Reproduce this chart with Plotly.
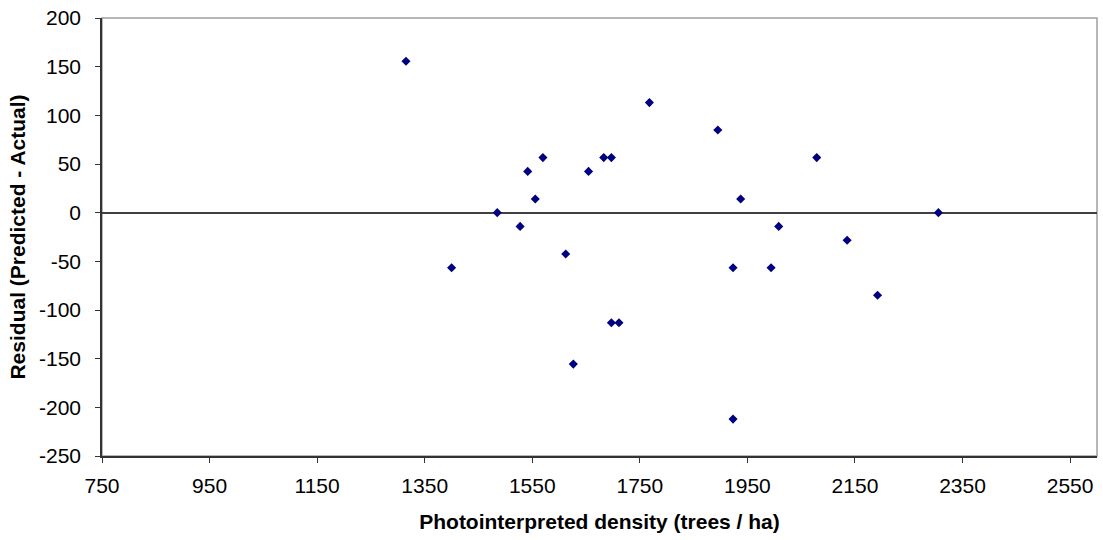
import plotly.graph_objects as go

# Photointerpreted density (trees / ha)
density = [1315.2, 1400.0, 1484.9, 1527.4, 1541.5, 1555.6, 1569.8, 1612.2, 1626.3,
           1654.6, 1682.9, 1697.1, 1697.1, 1711.2, 1767.8, 1895.0, 1923.3, 1923.3,
           1937.5, 1994.0, 2008.2, 2078.9, 2135.4, 2192.0, 2305.1]
# Residual (Predicted - Actual)
residual = [155.6, -56.6, 0.0, -14.1, 42.4, 14.1, 56.6, -42.4, -155.6,
            42.4, 56.6, 56.6, -113.1, -113.1, 113.1, 84.9, -56.6, -212.1,
            14.1, -56.6, -14.1, 56.6, -28.3, -84.9, 0.0]

x_ticks = [750, 950, 1150, 1350, 1550, 1750, 1950, 2150, 2350, 2550]
y_ticks = [200, 150, 100, 50, 0, -50, -100, -150, -200, -250]

FONT = "Liberation Sans, Arial, sans-serif"

fig = go.Figure()
fig.add_trace(go.Scatter(
    x=density, y=residual, mode="markers",
    marker=dict(symbol="diamond", size=7, color="#000080",
                line=dict(width=0)),
    showlegend=False, hoverinfo="x+y",
))

fig.update_layout(
    width=1103, height=540,
    margin=dict(l=102, r=6, t=14, b=84),
    paper_bgcolor="white", plot_bgcolor="white",
    font=dict(family=FONT, size=21, color="black"),
    shapes=[dict(type="rect", xref="paper", yref="paper", x0=0, x1=1, y0=0, y1=1,
                 line=dict(color="#a0a0a0", width=1.5), layer="below")],
)
fig.update_xaxes(
    range=[750, 2600], tickvals=x_ticks, ticktext=[str(v) for v in x_ticks],
    showgrid=False, zeroline=False,
    showline=True, linecolor="#333333", linewidth=1.5,
    ticks="outside", ticklen=5, tickcolor="#333333", tickwidth=1,
    tickfont=dict(family=FONT, size=21, color="black"),
    ticklabelstandoff=5,
    title=dict(text="<b>Photointerpreted density (trees / ha)</b>",
               font=dict(family=FONT, size=21, color="black"), standoff=18),
)
fig.update_yaxes(
    range=[-250, 200], tickvals=y_ticks, ticktext=[str(v) for v in y_ticks],
    showgrid=False,
    zeroline=True, zerolinecolor="#404040", zerolinewidth=1.5,
    showline=True, linecolor="#333333", linewidth=1.5,
    ticks="outside", ticklen=5, tickcolor="#333333", tickwidth=1,
    tickfont=dict(family=FONT, size=21, color="black"),
    ticklabelstandoff=10,
    title=dict(text="<b>Residual (Predicted - Actual)</b>",
               font=dict(family=FONT, size=21, color="black"), standoff=8),
)

fig.write_html("out.html")
